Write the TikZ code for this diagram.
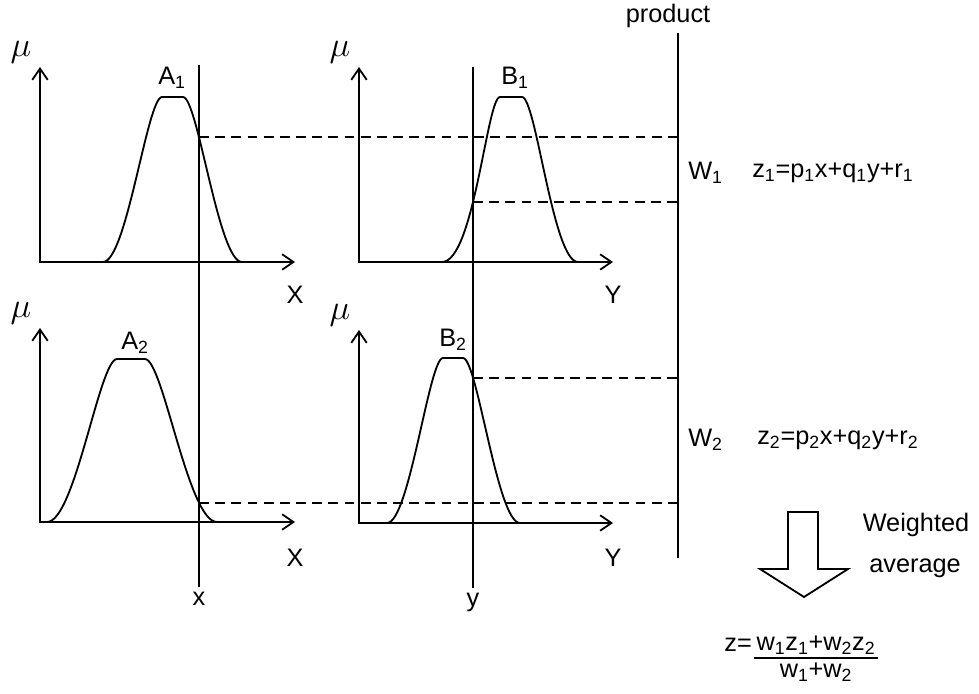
\documentclass[tikz,border=0pt]{standalone}
\usepackage{fontspec}
\setmainfont{Liberation Sans}
\usepackage{tikz}
\usetikzlibrary{arrows.meta,positioning,calc,intersections}
\newcommand{\sbs}[1]{\textsubscript{#1}}

\begin{document}
\begin{tikzpicture}[x=0.025cm,y=-0.025cm,>={Straight Barb[length=8pt,width=11pt]},line width=1.3pt,
  dsh/.style={dash pattern=on 7pt off 4.5pt},
  lbl/.style={font=\fontsize{18}{21}\selectfont,inner sep=1pt},
  mulbl/.style={font=\fontsize{25}{28}\selectfont,inner sep=0pt}]
  \useasboundingbox (0,0) rectangle (979,694);
  \coordinate (oA1) at (40,262);  \coordinate (oB1) at (359,262);
  \coordinate (oA2) at (40,522);  \coordinate (oB2) at (359,523);
  \coordinate (tA1) at (40,67);   \coordinate (tB1) at (359,67);
  \coordinate (tA2) at (40,328);  \coordinate (tB2) at (359,330);
  \coordinate (rA1) at (295,262); \coordinate (rB1) at (613,262);
  \coordinate (rA2) at (295,522); \coordinate (rB2) at (613,523);
  \coordinate (xt) at (199,65);   \coordinate (xb) at (199,587);
  \coordinate (yt) at (473,67);   \coordinate (yb) at (473,588);
  \coordinate (pt) at (678,33);   \coordinate (pb) at (678,558);
  \draw[<->] (tA1) -- (oA1) -- (rA1);
  \draw[<->] (tB1) -- (oB1) -- (rB1);
  \draw[<->] (tA2) -- (oA2) -- (rA2);
  \draw[<->] (tB2) -- (oB2) -- (rB2);
  \foreach \o in {A1,B1,A2,B2}
    \node[mulbl] at ($(t\o)+(-19,-15)$) {$\mu$};
  \draw[name path=cA1] (103,262) .. controls (126.6,262) and (147.3,97) .. (162,97) -- (183,97)
    .. controls (197.8,97) and (218.4,262) .. (242,262);
  \draw[name path=cB1] (442,262) .. controls (474,262) and (487,97) .. (500,97) -- (522,97)
    .. controls (536,97) and (553,262) .. (578,262);
  \draw[name path=cA2] (47,522) .. controls (75,522) and (99.5,359) .. (117,359) -- (145,359)
    .. controls (163,359) and (188.2,522) .. (217,522);
  \draw[name path=cB2] (387,523) .. controls (409.4,523) and (429,358) .. (443,358) -- (463,358)
    .. controls (477.3,358) and (497.2,523) .. (520,523);
  \draw[name path=xl] (xt) -- (xb) node[lbl,below=2pt] {x};
  \draw[name path=yl] (yt) -- (yb) node[lbl,below=2pt] {y};
  \draw (pt) -- (pb);
  \node[lbl] at (668,16) {product};
  \path[name intersections={of=cA1 and xl,by=iA1}];
  \path[name intersections={of=cB1 and yl,by=iB1}];
  \path[name intersections={of=cA2 and xl,by=iA2}];
  \path[name intersections={of=cB2 and yl,by=iB2}];
  \foreach \i in {iA1,iB1,iA2,iB2}
    \draw[dsh] (\i) -- (\i -| pt);
  \node[lbl] at (172,78) {A\sbs{1}};
  \node[lbl] at (515,78) {B\sbs{1}};
  \node[lbl] at (135,343) {A\sbs{2}};
  \node[lbl] at (453,340) {B\sbs{2}};
  \node[lbl] at (295,295) {X};  \node[lbl] at (613,295) {Y};
  \node[lbl] at (295,558) {X};  \node[lbl] at (613,558) {Y};
  \node[lbl,anchor=west] (W1) at (686,173) {W\sbs{1}};
  \node[lbl,anchor=west] (z1) at (750,173) {z\sbs{1}=p\sbs{1}x+q\sbs{1}y+r\sbs{1}};
  \node[lbl,anchor=west] (W2) at (686,440) {W\sbs{2}};
  \node[lbl,anchor=west] (z2) at (755,440) {z\sbs{2}=p\sbs{2}x+q\sbs{2}y+r\sbs{2}};
  \draw (788,512) -- (818,512) -- (818,569) -- (848,569) -- (804,597) -- (760,569) -- (788,569) -- cycle;
  \node[lbl] (wt) at (916,525) {Weighted};
  \node[lbl] (av) at (915,568) {average};
  \node[lbl] (num) at (816,645) {w\sbs{1}z\sbs{1}+w\sbs{2}z\sbs{2}};
  \node[lbl,left=0pt of num] (zz) {z=};
  \draw[line width=1pt] ([yshift=-1pt]num.south west) -- ([yshift=-1pt]num.south east);
  \node[lbl,below=3pt of num] (den) {w\sbs{1}+w\sbs{2}};
\end{tikzpicture}
\end{document}
